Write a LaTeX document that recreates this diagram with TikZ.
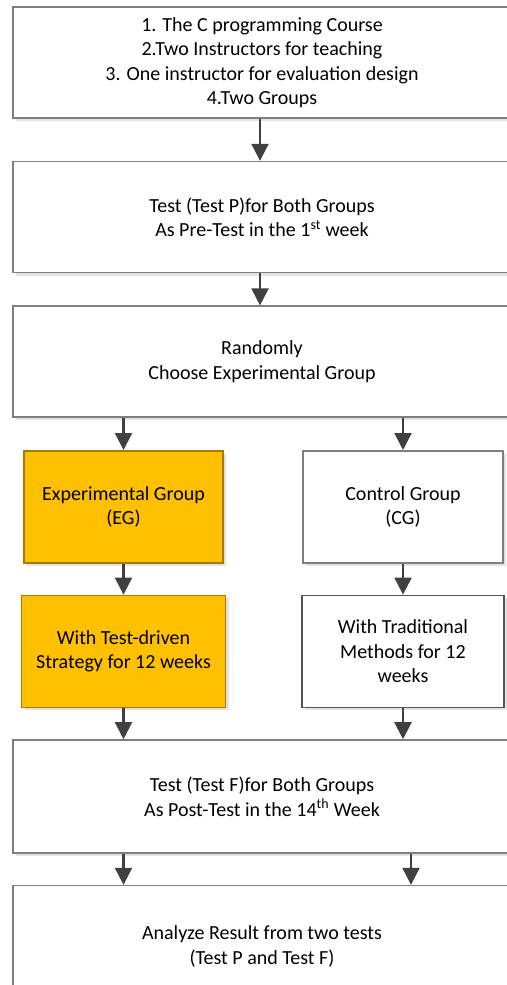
\documentclass[tikz,border=0pt]{standalone}
\usepackage{fontspec}
\setmainfont{Carlito}
\usetikzlibrary{arrows.meta,positioning,shadows}
\definecolor{gold}{HTML}{FFC000}
\definecolor{goldline}{HTML}{A67C00}
\definecolor{frameline}{HTML}{7F7F7F}
\definecolor{arrowgray}{HTML}{404040}
\definecolor{shade}{HTML}{E3E3E3}

\begin{document}
\begin{tikzpicture}[
 x=1pt,y=1pt,
 font=\fontsize{20}{24.5}\selectfont,
 box/.style={draw=frameline,line width=1.6pt,fill=white,align=center,inner sep=0pt,
   drop shadow={shadow xshift=3pt,shadow yshift=-3pt,fill=shade,opacity=1}},
 bigbox/.style={box,minimum width=498pt,minimum height=111pt},
 halfbox/.style={box,minimum width=200pt,minimum height=112pt},
 egbox/.style={halfbox,fill=gold,draw=goldline},
 arr/.style={-{Triangle[width=17pt,length=17pt]},line width=2.2pt,draw=arrowgray}
]
\useasboundingbox (0,0) rectangle (506,-985);
% main column
\node[bigbox] (setup) at (262,-62.5) {1. The C programming Course\\2.Two Instructors for teaching\\3. One instructor for evaluation design\\4.Two Groups};
\node[bigbox,below=42pt of setup] (pretest) {Test (Test P)for Both Groups\\As Pre-Test in the 1\textsuperscript{st} week};
\node[bigbox,below=32pt of pretest] (random) {Randomly\\Choose Experimental Group};
% the two groups
\node[egbox,below=32pt of random.south west,anchor=north west,xshift=11pt,minimum width=199pt] (eg) {Experimental Group\\(EG)};
\node[egbox,below=31pt of eg,minimum width=204pt] (eg2) {With Test-driven\\Strategy for 12 weeks};
\node[halfbox,anchor=north] (cg) at ([yshift=-32pt]random.south -| 403,0) {Control Group\\(CG)};
\node[halfbox,below=31pt of cg,minimum width=202pt,draw=arrowgray!90] (cg2) {With Traditional\\Methods for 12\\weeks};
% post-test and analysis
\node[bigbox,anchor=north,minimum height=113pt] (posttest) at ([yshift=-31pt]eg2.south -| random) {Test (Test F)for Both Groups\\As Post-Test in the 14\textsuperscript{th} Week};
\node[bigbox,below=31pt of posttest,minimum height=122pt] (analyze) {Analyze Result from two tests\\(Test P and Test F)};

\draw[arr] ([xshift=-2pt]setup.south)--([xshift=-2pt]pretest.north);
\draw[arr] ([xshift=-2pt]pretest.south)--([xshift=-2pt]random.north);
\draw[arr] (random.south -| eg)--(eg);
\draw[arr] (random.south -| cg)--(cg);
\draw[arr] (eg)--(eg2);
\draw[arr] (cg)--(cg2);
\draw[arr] (eg2)--(posttest.north -| eg2);
\draw[arr] (cg2)--(posttest.north -| cg2);
\draw[arr] (posttest.south -| eg2)--(analyze.north -| eg2);
\draw[arr] ([xshift=8pt]posttest.south -| cg2)--([xshift=8pt]analyze.north -| cg2);
\end{tikzpicture}
\end{document}
